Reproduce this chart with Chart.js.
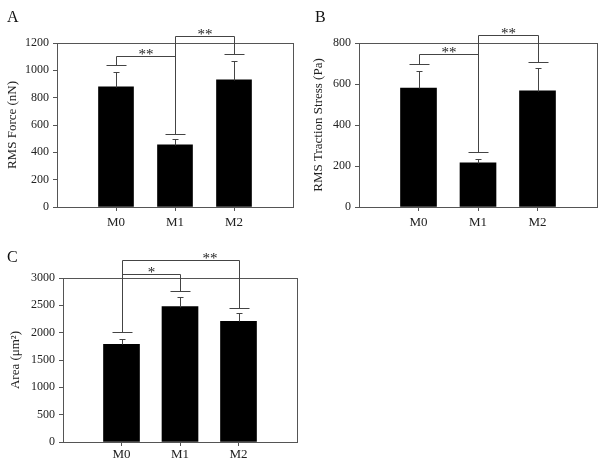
<!DOCTYPE html>
<html>
<head>
<meta charset="utf-8">
<script src="https://cdn.jsdelivr.net/npm/chart.js@4/dist/chart.umd.min.js"></script>
<style>
  html, body { margin: 0; padding: 0; background: #fff; }
  body { width: 604px; height: 469px; position: relative; overflow: hidden; }
  .panel { position: absolute; }
</style>
</head>
<body>
<div class="panel" style="left:0;top:0;width:302px;height:230px"><canvas id="cA"></canvas></div>
<div class="panel" style="left:302px;top:0;width:302px;height:230px"><canvas id="cB"></canvas></div>
<div class="panel" style="left:0;top:230px;width:302px;height:239px"><canvas id="cC"></canvas></div>
<script>
// ---------- data ----------
const categories = ['M0', 'M1', 'M2'];

const forceMean = [880, 455, 930];
const forceErr = [110, 40, 138];
const forceCap = [1040, 537, 1118];
const forceBrackets = [
  { from: 0, to: 1, level: 1107, label: '**', between: [0, 1] },
  { from: 1, to: 2, level: 1253, label: '**', between: [1, 2] }
];

const stressMean = [580, 215, 567];
const stressErr = [85, 20, 111];
const stressCap = [697, 268, 707];
const stressBrackets = [
  { from: 0, to: 1, level: 748, label: '**', between: [0, 1] },
  { from: 1, to: 2, level: 837, label: '**', between: [1, 2] }
];

const areaMean = [1787, 2477, 2208];
const areaErr = [104, 175, 146];
const areaCap = [2007, 2757, 2459];
const areaBrackets = [
  { from: 0, to: 1, level: 3081, label: '*', between: [0, 1] },
  { from: 0, to: 2, level: 3337, label: '**', between: [1, 2] }
];

// ---------- styling ----------
const FONT = "'Liberation Serif', 'Times New Roman', serif";
const FRAME = '#555';
const LINE = '#444';
const TEXT = '#222';

Chart.defaults.font.family = FONT;
Chart.defaults.color = TEXT;

function line(ctx, x1, y1, x2, y2) {
  ctx.beginPath();
  ctx.moveTo(x1, y1);
  ctx.lineTo(x2, y2);
  ctx.stroke();
}
const snap = v => Math.round(v) + 0.5;

function makeAnnot(spec) {
  return {
    id: 'annot' + spec.letter,
    afterDraw(chart) {
      const { ctx, chartArea: a, scales: { x, y } } = chart;
      ctx.save();
      ctx.lineWidth = 1;
      // frame box
      ctx.strokeStyle = FRAME;
      ctx.strokeRect(snap(a.left), snap(a.top), Math.round(a.right) - Math.round(a.left), Math.round(a.bottom) - Math.round(a.top));
      // error bars
      ctx.strokeStyle = LINE;
      const px = i => snap(x.getPixelForValue(i + 1));
      spec.mean.forEach((m, i) => {
        const cx = px(i);
        const y0 = snap(y.getPixelForValue(m));
        const y1 = snap(y.getPixelForValue(m + spec.err[i]));
        line(ctx, cx, y0, cx, y1);
        line(ctx, cx - 3, y1, cx + 3, y1);
      });
      // significance caps
      spec.cap.forEach((c, i) => {
        const cx = px(i);
        const yc = snap(y.getPixelForValue(c));
        line(ctx, cx - 10, yc, cx + 10, yc);
      });
      // brackets
      ctx.fillStyle = TEXT;
      ctx.font = '15px ' + FONT;
      ctx.textAlign = 'center';
      ctx.textBaseline = 'alphabetic';
      spec.brackets.forEach(b => {
        const x1 = px(b.from), x2 = px(b.to);
        const yl = snap(y.getPixelForValue(b.level));
        line(ctx, x1, snap(y.getPixelForValue(spec.cap[b.from])), x1, yl);
        line(ctx, x1, yl, x2, yl);
        line(ctx, x2, yl, x2, snap(y.getPixelForValue(spec.cap[b.to])));
        const lx = (px(b.between[0]) + px(b.between[1])) / 2;
        ctx.fillText(b.label, lx, yl + 2);
      });
      // panel letter
      ctx.font = '16px ' + FONT;
      ctx.textAlign = 'left';
      ctx.fillStyle = '#111';
      ctx.fillText(spec.letter, spec.letterX, spec.letterY);
      ctx.restore();
    }
  };
}

function makeChart(id, spec) {
  const labels = [''].concat(categories).concat(['']);
  const data = [null].concat(spec.mean).concat([null]);
  return new Chart(document.getElementById(id), {
    type: 'bar',
    data: {
      labels: labels,
      datasets: [{
        data: data,
        backgroundColor: '#000',
        borderWidth: 0,
        barThickness: spec.barW
      }]
    },
    options: {
      responsive: true,
      maintainAspectRatio: false,
      animation: false,
      devicePixelRatio: 1,
      layout: { padding: { top: spec.padTop, right: spec.padRight, left: 0, bottom: 0 } },
      plugins: { legend: { display: false }, tooltip: { enabled: false } },
      scales: {
        x: {
          offset: false,
          grid: {
            offset: false,
            drawOnChartArea: false,
            tickLength: 4,
            color: c => (c.index === 0 || c.index === labels.length - 1) ? 'rgba(0,0,0,0)' : FRAME
          },
          border: { display: true, color: FRAME },
          ticks: { font: { size: 13, family: FONT }, color: TEXT, padding: spec.xPad, maxRotation: 0, autoSkip: false },
          afterFit: s => { s.height = spec.xH; }
        },
        y: {
          min: 0,
          max: spec.max,
          grid: { drawOnChartArea: false, tickLength: 4, color: FRAME },
          border: { display: true, color: FRAME },
          ticks: { stepSize: spec.step, font: { size: 12, family: FONT }, color: TEXT, padding: 4, callback: v => String(v) },
          title: { display: true, text: spec.title, font: { size: 13, family: FONT }, color: TEXT, padding: { top: spec.titlePad, bottom: 0 } },
          afterFit: s => { s.width = spec.yW; }
        }
      }
    },
    plugins: [makeAnnot(spec)]
  });
}

makeChart('cA', {
  letter: 'A', letterX: 7, letterY: 22,
  mean: forceMean, err: forceErr, cap: forceCap, brackets: forceBrackets,
  max: 1200, step: 200, title: 'RMS Force (nN)', titlePad: 5,
  padTop: 43, padRight: 9, yW: 57, xH: 23, xPad: 4, barW: 35
});
makeChart('cB', {
  letter: 'B', letterX: 13, letterY: 22,
  mean: stressMean, err: stressErr, cap: stressCap, brackets: stressBrackets,
  max: 800, step: 200, title: 'RMS Traction Stress (Pa)', titlePad: 9,
  padTop: 43, padRight: 7, yW: 57, xH: 23, xPad: 4, barW: 36
});
makeChart('cC', {
  letter: 'C', letterX: 7, letterY: 32,
  mean: areaMean, err: areaErr, cap: areaCap, brackets: areaBrackets,
  max: 3000, step: 500, title: 'Area (\u03bcm\u00b2)', titlePad: 8,
  padTop: 48, padRight: 5, yW: 63, xH: 27, xPad: 1, barW: 36
});
</script>
</body>
</html>
